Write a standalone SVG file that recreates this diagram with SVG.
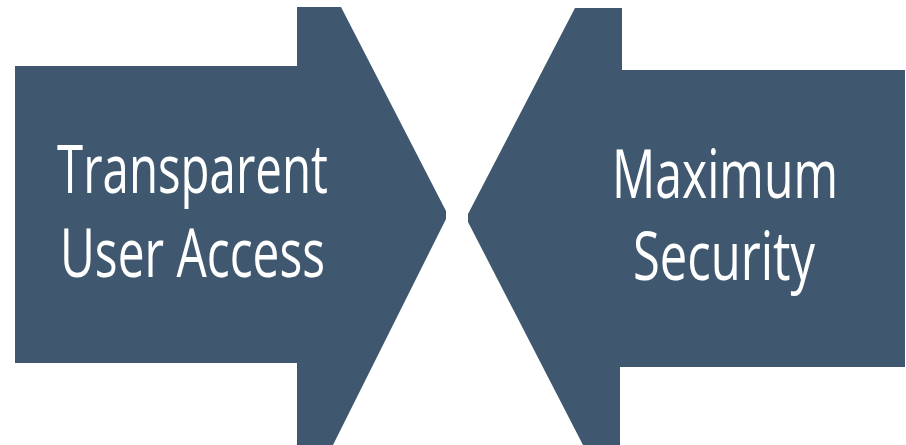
<svg xmlns="http://www.w3.org/2000/svg" width="906" height="445" viewBox="0 0 906 445">
<style>
.arrow{fill:#3f5870;}
.lbl{fill:#ffffff;font-family:"Open Sans","Noto Sans",sans-serif;font-size:68px;}
</style>
<rect width="906" height="445" fill="#ffffff"/>
<g id="left-arrow">
<polygon class="arrow" points="15,66 297,66 297,7 341,7 446,211 446,219 333,445 297,445 297,363 15,363"/>
<text class="lbl" x="57" y="193" textLength="271" lengthAdjust="spacingAndGlyphs">Transparent</text>
<text class="lbl" x="60" y="277" textLength="265" lengthAdjust="spacingAndGlyphs">User Access</text>
</g>
<g id="right-arrow">
<polygon class="arrow" points="905,70 622,70 622,8 575,8 468,214 468,222 583,445 620,445 620,367 905,367"/>
<text class="lbl" x="612" y="198" textLength="226" lengthAdjust="spacingAndGlyphs">Maximum</text>
<text class="lbl" x="633" y="280" textLength="182" lengthAdjust="spacingAndGlyphs">Security</text>
</g>
<g id="connectors"></g>
</svg>
